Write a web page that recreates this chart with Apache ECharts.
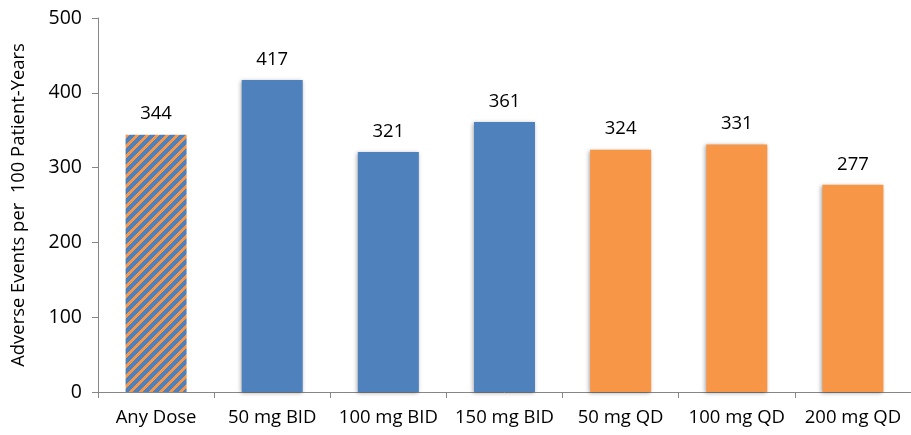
<!DOCTYPE html>
<html><head><meta charset="utf-8">
<script src="https://cdn.jsdelivr.net/npm/echarts@6/dist/echarts.min.js"></script>
<style>html,body{margin:0;padding:0;background:#fff;overflow:hidden}#c{width:911px;height:435px}</style>
</head><body><div id="c"></div>
<script>
const categories = ['Any Dose','50 mg BID','100 mg BID','150 mg BID','50 mg QD','100 mg QD','200 mg QD'];
const values = [344, 417, 321, 361, 324, 331, 277];
const groups = ['Any','BID','BID','BID','QD','QD','QD'];
const yTicks = [0, 100, 200, 300, 400, 500];

const BLUE = '#4F81BD', ORANGE = '#F79646';
function stripePattern(){
  const N = 10, w = 4;
  const cv = document.createElement('canvas');
  cv.width = N; cv.height = N;
  const ctx = cv.getContext('2d');
  ctx.fillStyle = BLUE; ctx.fillRect(0,0,N,N);
  ctx.fillStyle = ORANGE;
  for (let y=0;y<N;y++) for (let x=0;x<N;x++) if (((x+y)%N) < w) ctx.fillRect(x,y,1,1);
  return {image: cv, repeat: 'repeat'};
}
const pat = stripePattern();
const styleFor = g => g === 'Any'
  ? {color: pat}
  : {color: g === 'BID' ? BLUE : ORANGE, shadowColor: 'rgba(0,0,0,0.35)', shadowBlur: 4, shadowOffsetX: -1, shadowOffsetY: 1};

const font = "'Open Sans', 'Noto Sans', sans-serif";
const chart = echarts.init(document.getElementById('c'));
chart.setOption({
  animation: false,
  grid: {left: 98, top: 18, right: -6, bottom: 43},
  xAxis: {
    type: 'category', data: categories,
    axisLine: {lineStyle: {color: '#868686'}},
    axisTick: {show: true, length: 6, lineStyle: {color: '#868686'}},
    axisLabel: {color: '#000', fontSize: 18.5, fontFamily: font, margin: 16, interval: 0}
  },
  yAxis: {
    type: 'value', min: yTicks[0], max: yTicks[yTicks.length-1], interval: 100,
    name: 'Adverse Events per  100 Patient-Years', nameLocation: 'middle', nameGap: 70,
    nameTextStyle: {color: '#000', fontSize: 18.4, fontFamily: font},
    axisLine: {show: true, lineStyle: {color: '#868686'}},
    axisTick: {show: true, length: 6, lineStyle: {color: '#868686'}},
    axisLabel: {color: '#000', fontSize: 19.5, fontFamily: font, margin: 16},
    splitLine: {show: false}
  },
  series: [{
    type: 'bar', barWidth: 61,
    data: values.map((v,i) => ({value: v, itemStyle: styleFor(groups[i])})),
    label: {show: true, position: 'top', distance: 11, color: '#000', fontSize: 18.5, fontFamily: font}
  }]
});
</script></body></html>
